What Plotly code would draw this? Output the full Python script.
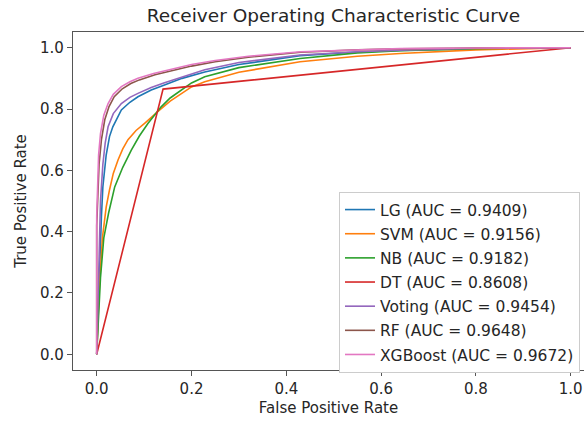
import plotly.graph_objects as go

# ---- data ----
model_names = ["LG", "SVM", "NB", "DT", "Voting", "RF", "XGBoost"]
auc_values = [0.9409, 0.9156, 0.9182, 0.8608, 0.9454, 0.9648, 0.9672]

lg_fpr = [0, 0.005, 0.01, 0.013, 0.02, 0.027, 0.034, 0.052, 0.07, 0.087, 0.115, 0.143, 0.18, 0.228, 0.3, 0.429, 0.55, 0.64, 0.8, 1.0]
lg_tpr = [0, 0.25, 0.45, 0.546, 0.65, 0.71, 0.742, 0.797, 0.822, 0.84, 0.862, 0.878, 0.9, 0.921, 0.945, 0.974, 0.986, 0.991, 0.997, 1.0]

svm_fpr = [0, 0.005, 0.012, 0.02, 0.027, 0.035, 0.045, 0.055, 0.066, 0.083, 0.101, 0.117, 0.133, 0.155, 0.178, 0.2, 0.228, 0.3, 0.429, 0.55, 0.64, 0.8, 1.0]
svm_tpr = [0, 0.2, 0.38, 0.48, 0.536, 0.59, 0.634, 0.67, 0.70, 0.73, 0.753, 0.776, 0.797, 0.826, 0.851, 0.872, 0.889, 0.92, 0.954, 0.972, 0.981, 0.993, 1.0]

nb_fpr = [0, 0.008, 0.015, 0.025, 0.038, 0.055, 0.073, 0.09, 0.108, 0.122, 0.136, 0.155, 0.178, 0.2, 0.228, 0.3, 0.429, 0.55, 0.64, 0.8, 1.0]
nb_tpr = [0, 0.25, 0.38, 0.46, 0.546, 0.61, 0.666, 0.712, 0.753, 0.78, 0.807, 0.836, 0.862, 0.885, 0.905, 0.935, 0.965, 0.983, 0.99, 0.997, 1.0]

dt_fpr = [0, 0.14, 1.0]
dt_tpr = [0, 0.865, 1.0]

voting_fpr = [0, 0.004, 0.008, 0.013, 0.018, 0.024, 0.035, 0.052, 0.07, 0.087, 0.115, 0.143, 0.18, 0.228, 0.3, 0.429, 0.55, 0.64, 0.8, 1.0]
voting_tpr = [0, 0.3, 0.5, 0.62, 0.69, 0.742, 0.785, 0.818, 0.838, 0.851, 0.87, 0.886, 0.905, 0.928, 0.952, 0.976, 0.987, 0.992, 0.998, 1.0]

rf_fpr = [0, 0.0, 0.005, 0.01, 0.017, 0.026, 0.037, 0.054, 0.072, 0.09, 0.123, 0.16, 0.2, 0.25, 0.32, 0.43, 0.55, 0.64, 0.8, 1.0]
rf_tpr = [0, 0.42, 0.62, 0.70, 0.765, 0.808, 0.84, 0.866, 0.883, 0.895, 0.912, 0.926, 0.94, 0.954, 0.969, 0.985, 0.993, 0.996, 0.999, 1.0]

xgb_fpr = [0, 0.0, 0.004, 0.008, 0.015, 0.024, 0.035, 0.052, 0.07, 0.087, 0.12, 0.157, 0.2, 0.25, 0.32, 0.43, 0.55, 0.64, 0.8, 1.0]
xgb_tpr = [0, 0.45, 0.65, 0.72, 0.78, 0.818, 0.848, 0.873, 0.889, 0.90, 0.916, 0.93, 0.945, 0.958, 0.972, 0.987, 0.994, 0.997, 0.999, 1.0]

x_ticks = [0.0, 0.2, 0.4, 0.6, 0.8, 1.0]
y_ticks = [0.0, 0.2, 0.4, 0.6, 0.8, 1.0]

curves = [
    (lg_fpr, lg_tpr),
    (svm_fpr, svm_tpr),
    (nb_fpr, nb_tpr),
    (dt_fpr, dt_tpr),
    (voting_fpr, voting_tpr),
    (rf_fpr, rf_tpr),
    (xgb_fpr, xgb_tpr),
]
colors = ["#1f77b4", "#ff7f0e", "#2ca02c", "#d62728", "#9467bd", "#8c564b", "#e377c2"]

FONT = "DejaVu Sans"
fig = go.Figure()
for i, (name, auc, (fx, ty)) in enumerate(zip(model_names, auc_values, curves)):
    fig.add_trace(go.Scatter(
        x=fx, y=ty, mode="lines",
        name=f"{name} (AUC = {auc:.4f})",
        legendgroup=f"g{i}",
        line=dict(color=colors[i], width=1.6),
    ))

fig.update_layout(
    width=584, height=421,
    margin=dict(l=73, r=0, t=32, b=51),
    paper_bgcolor="white", plot_bgcolor="white",
    font=dict(family=FONT, size=15, color="#262626"),
    title=dict(text="Receiver Operating Characteristic Curve", xref="container", x=0.571,
               xanchor="center", y=0.963, yanchor="middle",
               font=dict(family=FONT, size=18.5, color="#262626")),
    showlegend=True,
    legend=dict(x=(339 - 73) / 511, xanchor="left", xref="paper",
                y=(370 - 192) / 338, yanchor="top",
                bgcolor="white", bordercolor="#cccccc", borderwidth=1,
                font=dict(family=FONT, size=15.5, color="#262626"),
                tracegroupgap=1, itemwidth=30),
    xaxis=dict(range=[-0.05, 1.028], tickvals=x_ticks, ticktext=[f"{v:.1f}" for v in x_ticks],
               showgrid=False, zeroline=False, showline=True, linecolor="#555555", linewidth=1.2,
               mirror=True, ticks="outside", ticklen=5, tickcolor="#555555",
               tickfont=dict(family=FONT, size=15),
               title=dict(text="False Positive Rate", standoff=5, font=dict(family=FONT, size=15))),
    yaxis=dict(range=[-0.0512, 1.0512], tickvals=y_ticks, ticktext=[f"{v:.1f}" for v in y_ticks],
               showgrid=False, zeroline=False, showline=True, linecolor="#555555", linewidth=1.2,
               ticks="outside", ticklen=5, tickcolor="#555555",
               tickfont=dict(family=FONT, size=15),
               title=dict(text="True Positive Rate", standoff=9, font=dict(family=FONT, size=15))),
)

fig.write_html("out.html")
